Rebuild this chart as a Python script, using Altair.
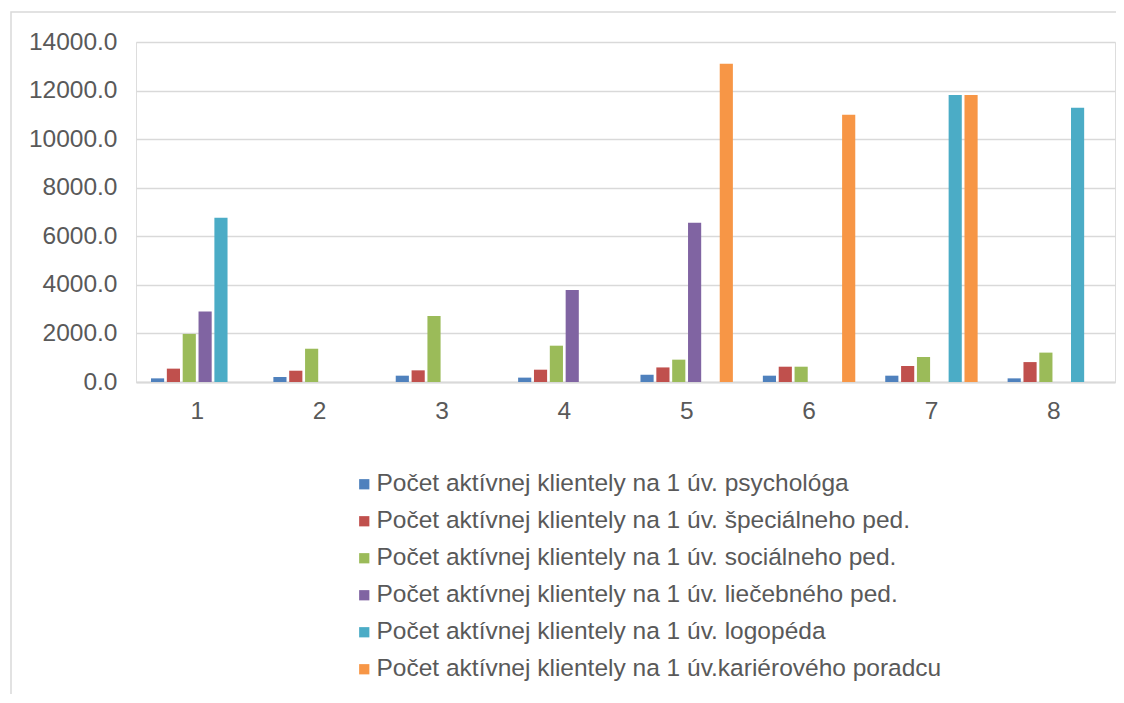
import altair as alt
import pandas as pd

categories = ["1", "2", "3", "4", "5", "6", "7", "8"]
series_names = [
    "Počet aktívnej klientely na 1 úv. psychológa",
    "Počet aktívnej klientely na 1 úv. špeciálneho ped.",
    "Počet aktívnej klientely na 1 úv. sociálneho ped.",
    "Počet aktívnej klientely na 1 úv. liečebného ped.",
    "Počet aktívnej klientely na 1 úv. logopéda",
    "Počet aktívnej klientely na 1 úv.kariérového poradcu",
]
psycholog = [150, 205, 260, 180, 300, 260, 260, 150]
specialny = [550, 465, 480, 507, 600, 630, 660, 820]
socialny = [1980, 1370, 2720, 1495, 920, 630, 1030, 1210]
liecebny = [2900, None, None, 3790, 6560, None, None, None]
logoped = [6760, None, None, None, None, None, 11820, 11290]
karierovy = [None, None, None, None, 13100, 11000, 11820, None]
colors = ["#4F81BD", "#C0504D", "#9BBB59", "#8064A2", "#4BACC6", "#F79646"]
y_ticks = [0, 2000, 4000, 6000, 8000, 10000, 12000, 14000]

all_series = [psycholog, specialny, socialny, liecebny, logoped, karierovy]
rows = []
for name, vals in zip(series_names, all_series):
    for c, v in zip(categories, vals):
        if v is not None:
            rows.append({"cat": c, "series": name, "value": v})
df = pd.DataFrame(rows)

FONT = "Liberation Sans"
TXT = "#595959"
GRID = "#D9D9D9"
FS = 24.5

bars = alt.Chart(df).mark_bar().encode(
    x=alt.X("cat:N", sort=categories,
            scale=alt.Scale(domain=categories, paddingInner=0.232, paddingOuter=0.116),
            axis=alt.Axis(title=None, labelAngle=0, ticks=False, domainColor=GRID,
                          domainWidth=2, labelPadding=17, labelFontSize=FS,
                          labelColor=TXT, labelFont=FONT, grid=False)),
    xOffset=alt.XOffset("series:N", sort=series_names,
                        scale=alt.Scale(domain=series_names, paddingInner=0.17, paddingOuter=0.05)),
    y=alt.Y("value:Q", scale=alt.Scale(domain=[0, 14000], nice=False),
            axis=alt.Axis(title=None, values=y_ticks, format=".1f", domain=False,
                          ticks=False, gridColor=GRID, gridWidth=1.5, labelPadding=19,
                          labelFontSize=FS, labelColor=TXT, labelFont=FONT)),
    color=alt.Color("series:N", sort=series_names,
                    scale=alt.Scale(domain=series_names, range=colors),
                    legend=alt.Legend(title=None, orient="none", legendX=216, legendY=430,
                                      direction="vertical", symbolType="square",
                                      symbolSize=105, symbolStrokeWidth=0,
                                      labelFontSize=FS, labelColor=TXT, labelFont=FONT,
                                      labelOffset=0, rowPadding=12, labelLimit=800)),
)

frame = alt.Chart(pd.DataFrame({"a": [0]})).mark_rect(
    fill=None, stroke=GRID, strokeWidth=1.5
).encode(
    x=alt.value(-125), x2=alt.value(1010), y=alt.value(-30), y2=alt.value(720)
)

chart = alt.layer(frame, bars).properties(
    width=979, height=340,
    autosize=alt.AutoSizeParams(type="none"),
    padding={"left": 128, "top": 34, "right": 1, "bottom": 312},
).configure_view(stroke=None).configure(font=FONT)

chart.save("out.html", embed_options={"renderer": "svg", "actions": False})
